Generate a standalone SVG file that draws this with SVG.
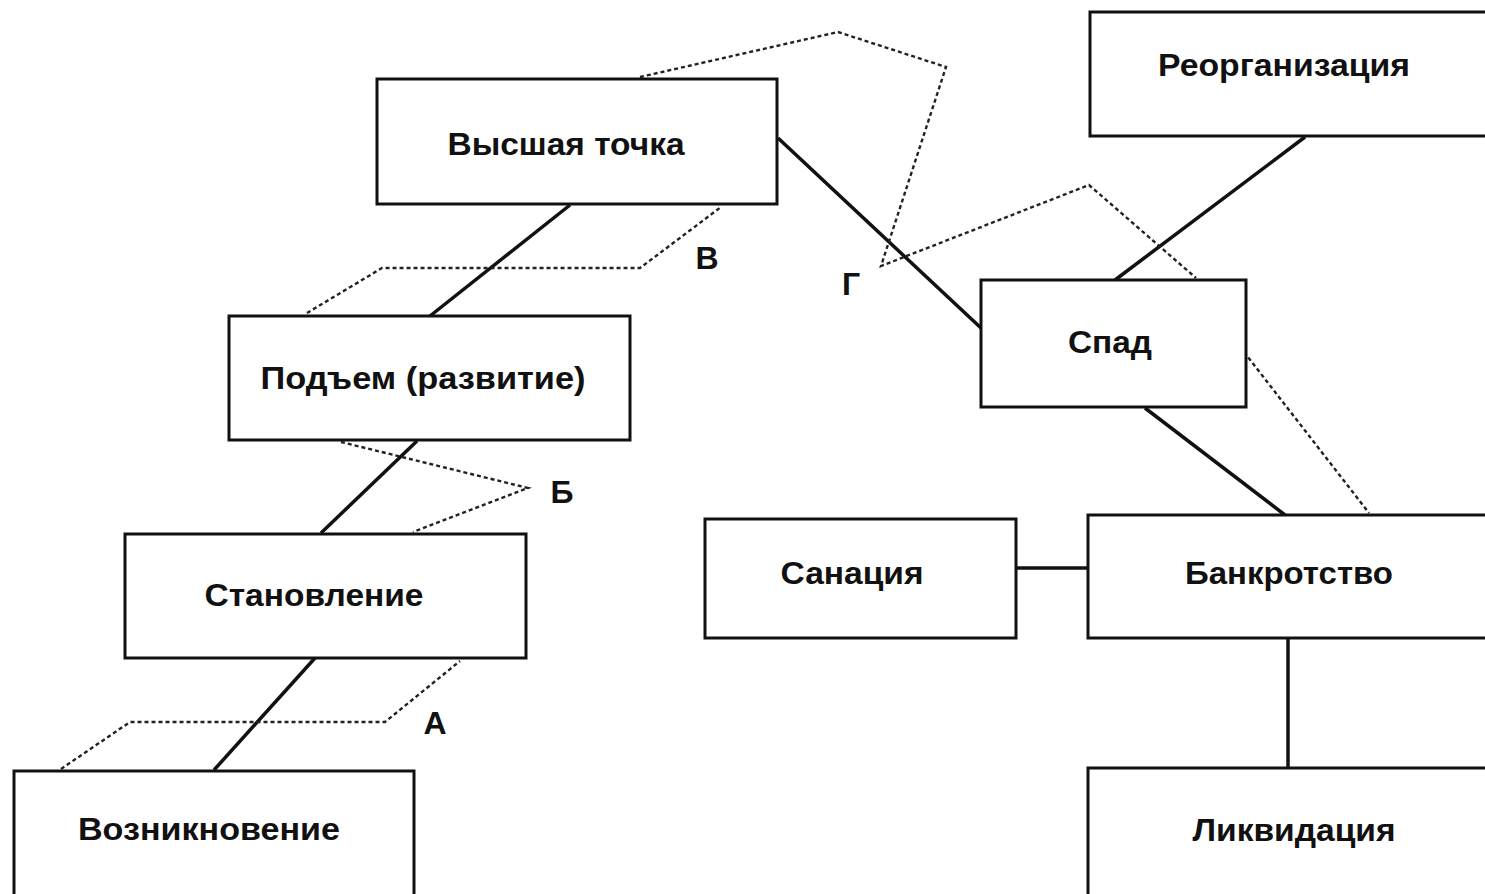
<svg xmlns="http://www.w3.org/2000/svg" width="1485" height="894" viewBox="0 0 1485 894">
<style>
.box{fill:#fff;stroke:#111;stroke-width:3}
.lbl{font-family:"Liberation Sans",Arial,sans-serif;font-weight:bold;font-size:32px;fill:#111;text-anchor:middle}
.let{font-family:"Liberation Sans",Arial,sans-serif;font-weight:bold;font-size:32px;fill:#111;text-anchor:middle}
.solid{stroke:#111;stroke-width:3.5;fill:none}
.dot{stroke:#222;stroke-width:2.4;stroke-dasharray:4 3;fill:none}
</style>
<rect width="1485" height="894" fill="#fff"/>
<g id="connectors">
<line class="solid" x1="214" y1="770" x2="315" y2="658"/>
<line class="solid" x1="321" y1="533" x2="417" y2="441"/>
<line class="solid" x1="430" y1="316" x2="570" y2="205"/>
<line class="solid" x1="778" y1="138" x2="981" y2="328"/>
<line class="solid" x1="1115" y1="280" x2="1305" y2="137"/>
<line class="solid" x1="1145" y1="408" x2="1285" y2="515"/>
<line class="solid" x1="1016" y1="568" x2="1088" y2="568"/>
<line class="solid" x1="1288" y1="638" x2="1288" y2="768"/>
<polyline class="dot" points="61,769 130,722 385,722 460,661"/>
<polyline class="dot" points="341,442 528,488 413,532"/>
<polyline class="dot" points="307,313 382,268 640,268 721,207"/>
<polyline class="dot" points="640,77 838,32 946,67 881,266 1089,185 1196,278"/>
<polyline class="dot" points="1244,352 1369,513"/>
</g>
<g id="n-vysshaya"><rect class="box" x="377" y="79" width="400" height="125"/><text class="lbl" x="566" y="155" textLength="237" lengthAdjust="spacingAndGlyphs">Высшая точка</text></g>
<g id="n-podem"><rect class="box" x="229" y="316" width="401" height="124"/><text class="lbl" x="423" y="389" textLength="325" lengthAdjust="spacingAndGlyphs">Подъем (развитие)</text></g>
<g id="n-stanovlenie"><rect class="box" x="125" y="534" width="401" height="124"/><text class="lbl" x="314" y="606" textLength="219" lengthAdjust="spacingAndGlyphs">Становление</text></g>
<g id="n-vozniknovenie"><rect class="box" x="14" y="771" width="400" height="126"/><text class="lbl" x="209" y="840" textLength="262" lengthAdjust="spacingAndGlyphs">Возникновение</text></g>
<g id="n-reorg"><rect class="box" x="1090" y="12" width="398" height="124"/><text class="lbl" x="1284" y="76" textLength="252" lengthAdjust="spacingAndGlyphs">Реорганизация</text></g>
<g id="n-spad"><rect class="box" x="981" y="280" width="265" height="127"/><text class="lbl" x="1110" y="353" textLength="84" lengthAdjust="spacingAndGlyphs">Спад</text></g>
<g id="n-sanaciya"><rect class="box" x="705" y="519" width="311" height="119"/><text class="lbl" x="852" y="584" textLength="143" lengthAdjust="spacingAndGlyphs">Санация</text></g>
<g id="n-bankrot"><rect class="box" x="1088" y="515" width="400" height="123"/><text class="lbl" x="1289" y="584" textLength="208" lengthAdjust="spacingAndGlyphs">Банкротство</text></g>
<g id="n-likvid"><rect class="box" x="1088" y="768" width="400" height="129"/><text class="lbl" x="1294" y="841" textLength="203" lengthAdjust="spacingAndGlyphs">Ликвидация</text></g>
<g id="letters">
<text class="let" x="435" y="734">А</text>
<text class="let" x="562" y="503">Б</text>
<text class="let" x="707" y="269">В</text>
<text class="let" x="851" y="295">Г</text>
</g>
</svg>
